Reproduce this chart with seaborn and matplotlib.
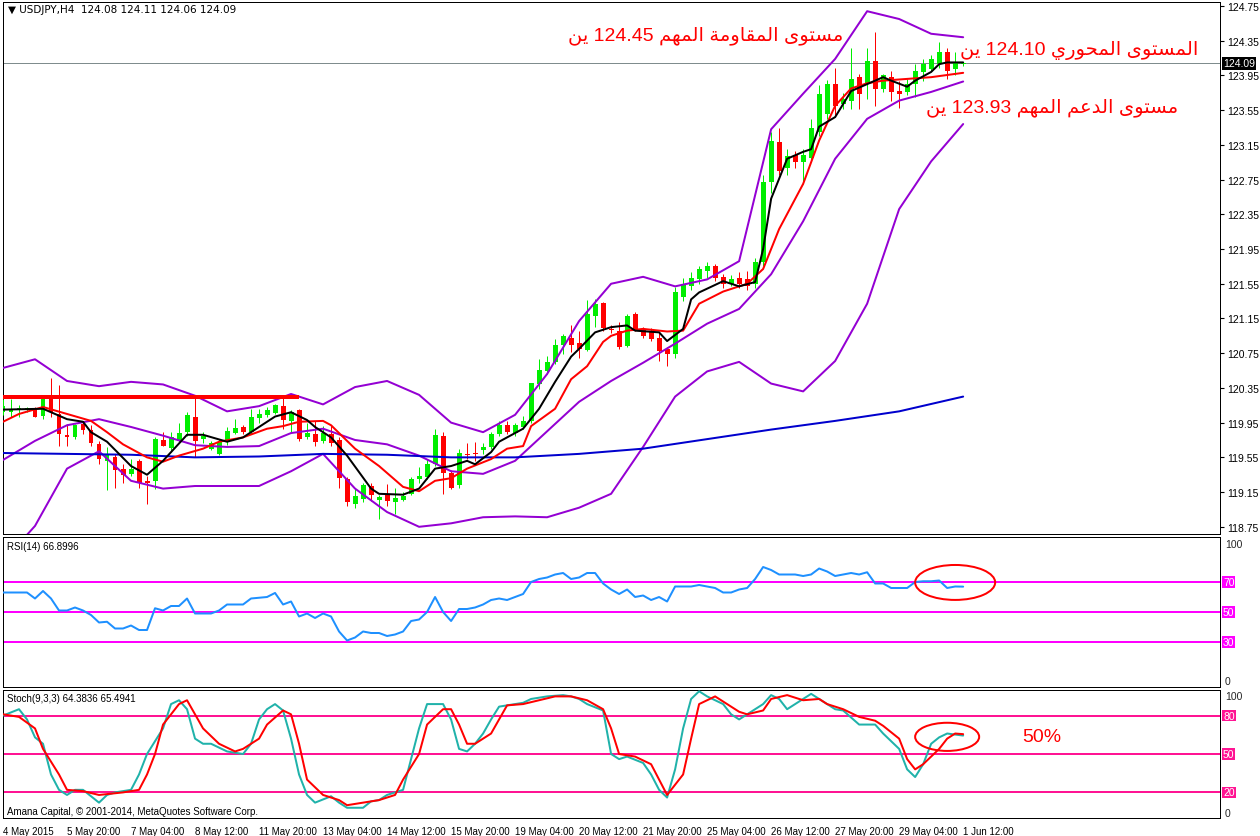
import numpy as np
import pandas as pd
import matplotlib
matplotlib.use("Agg")
import matplotlib.pyplot as plt
import matplotlib.transforms as mtransforms
from matplotlib.patches import Ellipse
import seaborn as sns

sns.set_theme(style="white")
plt.rcParams['font.family'] = ['Liberation Sans', 'DejaVu Sans']

# ---------------- data ----------------
opens = [120.07,120.07,120.10,120.11,120.11,120.03,120.23,120.05,119.80,119.78,
         119.93,119.87,119.70,119.51,119.55,119.42,119.36,119.51,119.27,119.28,
         119.75,119.66,119.74,119.84,120.02,119.76,119.65,119.59,119.74,119.83,
         119.90,119.84,120.00,120.04,120.06,120.14,119.97,120.09,119.78,119.82,
         119.74,119.82,119.75,119.30,119.01,119.07,119.22,119.06,119.13,119.04,
         119.06,119.13,119.30,119.32,119.47,119.80,119.37,119.23,119.59,119.60,
         119.63,119.67,119.82,119.92,119.83,119.90,119.97,120.40,120.54,120.65,
         120.84,120.93,120.87,120.79,121.18,121.33,121.03,121.00,120.83,121.20,
         121.02,121.01,120.93,120.80,120.74,121.40,121.52,121.60,121.70,121.75,
         121.63,121.55,121.62,121.60,121.55,121.80,122.72,123.18,122.88,123.03,
         122.95,123.00,123.30,123.50,123.85,123.62,123.66,123.93,123.85,124.12,
         123.79,123.93,123.77,123.76,123.85,123.99,124.02,124.08,124.22,124.02,
         124.08]
highs = [120.22,120.22,120.15,120.13,120.13,120.27,120.46,120.38,119.93,119.93,
         119.97,119.92,119.74,119.67,119.59,119.47,119.53,119.53,119.34,119.78,
         119.84,119.84,119.95,120.07,120.24,119.84,119.74,119.76,119.90,119.99,
         119.92,120.11,120.11,120.13,120.16,120.26,120.09,120.11,119.95,119.97,
         119.91,119.92,119.78,119.32,119.19,119.26,119.26,119.12,119.24,119.20,
         119.15,119.32,119.44,119.53,119.88,119.84,119.40,119.65,119.72,119.73,
         119.72,119.84,119.97,119.97,119.95,120.03,120.41,120.68,120.72,120.91,
         120.97,121.07,121.01,121.36,121.37,121.34,121.07,121.11,121.20,121.22,
         121.05,121.04,120.99,120.82,121.51,121.62,121.68,121.76,121.80,121.78,
         121.66,121.65,121.68,121.70,121.85,122.80,123.30,123.35,123.10,123.08,
         123.10,123.45,123.84,123.90,124.04,123.75,124.27,123.97,124.27,124.45,
         123.97,124.00,123.89,123.91,124.08,124.14,124.18,124.33,124.27,124.22,
         124.11]
lows = [120.04,120.01,120.01,120.07,120.01,119.99,120.01,119.68,119.68,119.76,
        119.82,119.68,119.47,119.17,119.20,119.26,119.34,119.20,119.01,119.19,
        119.68,119.61,119.72,119.80,119.55,119.72,119.63,119.58,119.69,119.82,
        119.82,119.82,119.95,120.01,120.05,119.88,119.84,119.74,119.76,119.68,
        119.72,119.68,119.20,118.99,118.97,119.03,119.05,118.84,118.99,118.90,
        119.05,119.12,119.26,119.30,119.45,119.13,119.19,119.20,119.53,119.51,
        119.59,119.65,119.80,119.82,119.80,119.88,119.95,120.34,120.51,120.63,
        120.74,120.76,120.69,120.77,121.05,121.01,120.98,120.80,120.82,121.00,
        120.93,120.89,120.66,120.60,120.70,121.35,121.48,121.55,121.62,121.58,
        121.50,121.52,121.50,121.48,121.50,121.75,122.60,122.80,122.80,122.88,
        122.70,122.95,123.25,123.45,123.49,123.56,123.56,123.56,123.68,123.60,
        123.76,123.66,123.58,123.72,123.70,123.89,124.00,124.04,123.91,123.95,
        124.06]
closes = [120.14,120.11,120.12,120.11,120.02,120.22,120.07,119.82,119.79,119.92,
          119.86,119.72,119.53,119.59,119.40,119.35,119.42,119.26,119.26,119.76,
          119.68,119.78,119.83,120.04,119.74,119.80,119.72,119.73,119.85,119.89,
          119.84,120.02,120.05,120.09,120.15,119.98,120.07,119.76,119.83,119.73,
          119.83,119.72,119.31,119.03,119.11,119.23,119.12,119.09,119.05,119.08,
          119.11,119.30,119.34,119.47,119.81,119.37,119.20,119.60,119.58,119.59,
          119.67,119.82,119.92,119.84,119.92,119.97,120.41,120.56,120.65,120.84,
          120.95,120.84,120.80,121.20,121.32,121.04,121.02,120.82,121.18,121.02,
          120.95,120.91,120.78,120.74,121.45,121.55,121.62,121.72,121.75,121.62,
          121.55,121.60,121.55,121.52,121.80,122.72,123.20,122.85,123.02,122.95,
          123.03,123.35,123.74,123.85,123.60,123.68,123.91,123.74,124.12,123.79,
          123.95,123.76,123.74,123.85,124.00,124.08,124.14,124.22,124.00,124.10,
          124.09]

band_bars = list(range(0, 121, 4))
bb_upper = [120.58,120.68,120.43,120.37,120.42,120.39,120.26,120.08,120.14,120.28,
            120.16,120.36,120.43,120.27,119.95,119.84,120.04,120.51,121.12,121.55,
            121.63,121.52,121.60,121.81,123.33,123.74,124.14,124.69,124.60,124.43,
            124.39]
bb_mid = [119.52,119.74,119.92,119.99,119.90,119.80,119.69,119.67,119.68,119.83,
          119.88,119.75,119.70,119.57,119.39,119.36,119.51,119.85,120.19,120.43,
          120.64,120.86,121.09,121.26,121.66,122.27,122.99,123.45,123.66,123.76,
          123.88]
bb_lower = [118.35,118.76,119.42,119.62,119.28,119.19,119.22,119.22,119.22,119.39,
            119.59,119.19,118.92,118.75,118.79,118.86,118.87,118.86,118.97,119.13,
            119.67,120.25,120.54,120.65,120.40,120.31,120.66,121.32,122.41,122.96,
            123.39]

red_bars = [0,2,5,8,11,13,15,18,20,22,25,27,30,33,35,37,40,41,44,47,50,52,54,56,58,61,63,65,66,
            69,71,73,75,76,78,80,83,85,87,90,93,95,97,100,102,104,106,108,110,113,116,120]
ma_red = [119.96,120.05,120.13,120.05,119.97,119.84,119.70,119.55,119.50,119.57,119.65,119.73,
          119.78,119.88,119.91,119.96,119.97,119.92,119.65,119.45,119.21,119.16,119.28,119.31,
          119.42,119.53,119.65,119.68,119.91,120.11,120.45,120.60,120.88,120.95,121.01,121.03,
          121.00,121.01,121.32,121.46,121.55,121.72,122.18,122.70,123.20,123.60,123.80,123.86,
          123.89,123.91,123.93,123.98]
black_bars = [0,5,8,10,11,13,16,18,20,23,25,28,30,32,34,36,38,39,41,43,46,47,50,52,54,56,58,59,
              61,62,65,67,69,71,72,74,76,78,79,82,83,85,86,87,90,92,94,95,96,98,100,101,102,104,
              106,108,110,111,113,114,116,117,118,120]
ma_black = [120.10,120.11,119.99,119.96,119.84,119.73,119.45,119.35,119.51,119.81,119.81,119.73,
            119.78,119.90,120.02,120.07,119.98,119.90,119.78,119.57,119.19,119.13,119.12,119.19,
            119.42,119.45,119.51,119.47,119.61,119.73,119.88,120.11,120.42,120.71,120.80,120.99,
            121.05,121.07,121.01,120.99,120.89,121.03,121.37,121.45,121.58,121.52,121.57,121.95,
            122.53,122.99,123.07,123.10,123.36,123.47,123.77,123.85,123.93,123.89,123.82,123.89,
            123.99,124.08,124.10,124.10]
blue_bars = list(range(0, 121, 8))
ma_blue = [119.60,119.59,119.58,119.55,119.56,119.59,119.58,119.55,119.55,119.59,
           119.65,119.76,119.87,119.97,120.08,120.25]

level_red = 120.25
level_red_end = 37
bid = 124.09

rsi = [63,63,63,63,59,64,59,51,51,53, 51,48,43,43.5,39,39,41,38,38,52.5,
       51,54,54,59,49,49,49,51,55,55, 55,59,59.5,60,62.7,55,57,47,49,46,
       49,47,37,31,33,37,36,36,34,35, 37,44,45,50,60,50,44,52,52,53,
       55,58,59,58,60,62,70,72,73,75, 76,72,73,76,76,69,65,62,65,60,
       61,58,60,57,67,67,67,68,67,66, 63,63,65,66,72,80,78,75,75,75,
       74,75,79,77,74,75,76,75,76.5,69, 69,66,66,66,70,70.5,70.5,71,66,67,
       66.9]

k_bars = [0,2,3,4,5,6,7,8,9,10,11,12,13,14,16,17,18,20,21,22,23,24,25,26,28,30,31,32,33,34,
          35,36,37,38,39,41,42,43,45,46,47,48,50,51,52,53,55,56,57,58,59,60,61,62,63,65,66,68,
          70,71,72,73,75,76,77,78,80,81,82,83,84,85,86,87,88,90,91,92,93,95,96,97,98,100,101,
          102,103,104,105,107,108,109,110,112,113,114,115,116,117,118,120]
k_vals = [80,85,77,63,58,34,22,18,22,22,17,12,18,20,22,34,50,70,89,92,85,62,58,58,52,50,58,77,85,89,
          84,62,34,18,12,17,12,8,8,13,14,18,22,46,70,89,89,77,54,52,58,66,77,87,88,90,93,95,
          96,95,93,89,84,50,46,48,43,34,22,16,38,70,93,99,95,89,81,77,81,89,96,93,85,93,97,
          93,89,85,84,73,73,73,66,54,38,32,42,58,63,66,64.4]
d_bars = [0,2,4,5,7,8,10,12,15,17,18,19,20,22,23,24,25,27,29,30,32,33,35,36,37,38,40,42,43,45,
          47,49,50,52,53,55,56,57,58,59,61,62,63,65,67,69,71,73,75,76,77,79,81,82,83,85,86,87,
          89,90,92,93,95,96,98,100,102,103,105,107,109,110,112,113,114,115,117,118,119,120]
d_vals = [81,79,70,54,34,22,21,18,20,22,34,50,73,89,92,81,70,58,52,54,62,73,84,81,58,30,18,14,10,12,
          14,18,30,50,73,85,85,73,58,58,66,77,88,89,92,95,95,92,85,70,50,48,42,30,18,34,62,89,
          95,91,83,81,84,93,96,92,93,89,85,79,76,72,62,46,38,42,54,62,66,65.5]

x_tick_bars = list(range(0, 121, 8))
x_tick_labels = ["4 May 2015", "5 May 20:00", "7 May 04:00", "8 May 12:00", "11 May 20:00",
                 "13 May 04:00", "14 May 12:00", "15 May 20:00", "19 May 04:00", "20 May 12:00",
                 "21 May 20:00", "25 May 04:00", "26 May 12:00", "27 May 20:00", "29 May 04:00",
                 "1 Jun 12:00"]
price_ticks = [118.75, 119.15, 119.55, 119.95, 120.35, 120.75, 121.15, 121.55, 121.95,
               122.35, 122.75, 123.15, 123.55, 123.95, 124.35, 124.75]
rsi_levels = [70, 50, 30]
stoch_levels = [80, 50, 20]

header = "\u25BC USDJPY,H4  124.08 124.11 124.06 124.09"
rsi_title = "RSI(14) 66.8996"
stoch_title = "Stoch(9,3,3) 64.3836 65.4941"
copyright_txt = "Amana Capital, \u00A9 2001-2014, MetaQuotes Software Corp."
note_resist = "مستوى المقاومة المهم 124.45 ين"
note_pivot = "المستوى المحوري 124.10 ين"
note_support = "مستوى الدعم المهم 123.93 ين"
note_pct = "50%"

# ------------- Arabic shaping (presentation forms, visual order) -------------
FORMS = {
    'ا': ('\uFE8D', '\uFE8E', None, None),
    'ة': ('\uFE93', '\uFE94', None, None),
    'ت': ('\uFE95', '\uFE96', '\uFE97', '\uFE98'),
    'ح': ('\uFEA1', '\uFEA2', '\uFEA3', '\uFEA4'),
    'د': ('\uFEA9', '\uFEAA', None, None),
    'ر': ('\uFEAD', '\uFEAE', None, None),
    'س': ('\uFEB1', '\uFEB2', '\uFEB3', '\uFEB4'),
    'ع': ('\uFEC9', '\uFECA', '\uFECB', '\uFECC'),
    'ق': ('\uFED5', '\uFED6', '\uFED7', '\uFED8'),
    'ل': ('\uFEDD', '\uFEDE', '\uFEDF', '\uFEE0'),
    'م': ('\uFEE1', '\uFEE2', '\uFEE3', '\uFEE4'),
    'ن': ('\uFEE5', '\uFEE6', '\uFEE7', '\uFEE8'),
    'ه': ('\uFEE9', '\uFEEA', '\uFEEB', '\uFEEC'),
    'و': ('\uFEED', '\uFEEE', None, None),
    'ى': ('\uFEEF', '\uFEF0', None, None),
    'ي': ('\uFEF1', '\uFEF2', '\uFEF3', '\uFEF4'),
}


def shape_word(w):
    out = []
    n = len(w)
    for k, ch in enumerate(w):
        if ch not in FORMS:
            out.append(ch)
            continue
        f = FORMS[ch]
        pj = k > 0 and w[k - 1] in FORMS and FORMS[w[k - 1]][2] is not None
        nj = f[2] is not None and k + 1 < n and w[k + 1] in FORMS
        if pj and nj:
            out.append(f[3])
        elif pj:
            out.append(f[1])
        elif nj:
            out.append(f[2])
        else:
            out.append(f[0])
    return ''.join(out)


def visual(text):
    vis = []
    for p in text.split(' '):
        if any(c in FORMS for c in p):
            vis.append(shape_word(p)[::-1])
        else:
            vis.append(p)
    return ' '.join(reversed(vis))


# ---------------- figure ----------------
W, H = 1260, 837
fig = plt.figure(figsize=(W / 100, H / 100), dpi=100)
fig.patch.set_facecolor('white')


def px_axes(x0, y0, x1, y1):
    return fig.add_axes([x0 / W, 1 - y1 / H, (x1 - x0) / W, (y1 - y0) / H])


ax = px_axes(3, 3, 1220, 535)
ax_r = px_axes(3, 538, 1220, 688)
ax_s = px_axes(3, 691, 1220, 819)

PX = 0.72  # 1 pixel in points
XMAX = 152.1
ylo, yhi = 118.667, 124.796
FS = 7.5
FSX = 7

# candles
idx = np.arange(len(closes))
o = np.array(opens); c = np.array(closes); hi = np.array(highs); lo = np.array(lows)
cols = np.where(c >= o, '#00EE00', '#FF0000')
ax.vlines(idx, lo, hi, colors=cols, lw=1.0 * PX, zorder=3)
bot = np.minimum(o, c)
hgt = np.maximum(np.abs(c - o), 0.012)
ax.bar(idx, hgt, bottom=bot, width=0.62, color=cols, linewidth=0, zorder=4)

lw2 = 2.0 * PX
band_df = pd.DataFrame({'bar': band_bars, 'up': bb_upper, 'mid': bb_mid, 'low': bb_lower})
for col in ['up', 'mid', 'low']:
    sns.lineplot(data=band_df, x='bar', y=col, ax=ax, color='#9400D3', lw=lw2, zorder=5)
blue_df = pd.DataFrame({'bar': blue_bars, 'v': ma_blue})
sns.lineplot(data=blue_df, x='bar', y='v', ax=ax, color='#0000CD', lw=lw2, zorder=5)
red_df = pd.DataFrame({'bar': red_bars, 'v': ma_red})
sns.lineplot(data=red_df, x='bar', y='v', ax=ax, color='#FF0000', lw=lw2, zorder=6)
black_df = pd.DataFrame({'bar': black_bars, 'v': ma_black})
sns.lineplot(data=black_df, x='bar', y='v', ax=ax, color='black', lw=lw2, zorder=7)
ax.hlines(level_red, 0, level_red_end, color='#FF0000', lw=4 * PX, zorder=6)
ax.axhline(bid, color='#7F8C8D', lw=1 * PX, zorder=2)

ax.set_xlim(0, XMAX)
ax.set_ylim(ylo, yhi)
ax.set_xticks([])
ax.yaxis.tick_right()
ax.set_yticks(price_ticks)
ax.set_yticklabels([f"{t:.2f}" for t in price_ticks])
ax.set_xlabel(''); ax.set_ylabel('')

trans_main = mtransforms.blended_transform_factory(ax.transAxes, ax.transData)
ax.text(1.0025, bid, f"{bid:.2f}", transform=trans_main, color='white', fontsize=FS,
        va='center', ha='left', zorder=10,
        bbox=dict(boxstyle='square,pad=0.12', fc='black', ec='none'))

# RSI
rsi_df = pd.DataFrame({'bar': idx, 'rsi': rsi})
for lv in rsi_levels:
    ax_r.axhline(lv, color='#FF00FF', lw=lw2, zorder=2)
sns.lineplot(data=rsi_df, x='bar', y='rsi', ax=ax_r, color='#1E90FF', lw=lw2, zorder=4)
ax_r.set_xlim(0, XMAX); ax_r.set_ylim(0, 100)
ax_r.set_xticks([]); ax_r.set_yticks([])
ax_r.set_xlabel(''); ax_r.set_ylabel('')
tr_r = mtransforms.blended_transform_factory(ax_r.transAxes, ax_r.transData)
for lv in rsi_levels:
    ax_r.text(1.0025, lv, str(lv), transform=tr_r, color='white', fontsize=FS, va='center',
              ha='left', bbox=dict(boxstyle='square,pad=0.08', fc='#FF00FF', ec='none'))
ax_r.text(1.004, 0.955, '100', transform=ax_r.transAxes, fontsize=FS, va='center', ha='left')
ax_r.text(1.004, 0.04, '0', transform=ax_r.transAxes, fontsize=FS, va='center', ha='left')
ax_r.add_patch(Ellipse((119, 69.7), 10, 23.3, fill=False, ec='#FF0000', lw=2 * PX, zorder=6))

# Stochastic
k_df = pd.DataFrame({'bar': k_bars, 'k': k_vals})
d_df = pd.DataFrame({'bar': d_bars, 'd': d_vals})
for lv in stoch_levels:
    ax_s.axhline(lv, color='#FF1493', lw=lw2, zorder=2)
sns.lineplot(data=k_df, x='bar', y='k', ax=ax_s, color='#20B2AA', lw=lw2, zorder=4)
sns.lineplot(data=d_df, x='bar', y='d', ax=ax_s, color='#FF0000', lw=lw2, zorder=5)
ax_s.set_xlim(0, XMAX); ax_s.set_ylim(0, 100)
ax_s.set_yticks([])
ax_s.set_xticks(x_tick_bars)
ax_s.set_xticklabels(x_tick_labels, ha='left')
ax_s.set_xlabel(''); ax_s.set_ylabel('')
tr_s = mtransforms.blended_transform_factory(ax_s.transAxes, ax_s.transData)
for lv in stoch_levels:
    ax_s.text(1.0025, lv, str(lv), transform=tr_s, color='white', fontsize=FS, va='center',
              ha='left', bbox=dict(boxstyle='square,pad=0.08', fc='#FF1493', ec='none'))
ax_s.text(1.004, 0.95, '100', transform=ax_s.transAxes, fontsize=FS, va='center', ha='left')
ax_s.text(1.004, 0.04, '0', transform=ax_s.transAxes, fontsize=FS, va='center', ha='left')
ax_s.add_patch(Ellipse((118, 63.4), 8, 22, fill=False, ec='#FF0000', lw=2 * PX, zorder=6))

for a in (ax, ax_r, ax_s):
    a.set_facecolor('white')
    for sp in a.spines.values():
        sp.set_color('black'); sp.set_linewidth(1.0 * PX); sp.set_visible(True)
    a.tick_params(axis='both', which='both', direction='out', length=3, width=0.8,
                  colors='black', labelsize=FS, pad=2)
    a.grid(False)
ax_s.tick_params(axis='x', length=4, pad=2, labelsize=FSX)

# panel texts
fig.text(8 / W, 1 - 10 / H, header, fontsize=FS, color='black', va='center', ha='left',
         family=['DejaVu Sans'])
fig.text(7 / W, 1 - 547 / H, rsi_title, fontsize=FSX, color='black', va='center', ha='left')
fig.text(7 / W, 1 - 699 / H, stoch_title, fontsize=FSX, color='black', va='center', ha='left')
fig.text(7 / W, 1 - 812 / H, copyright_txt, fontsize=FSX, color='black', va='center', ha='left')

# annotations
afam = ['Liberation Sans', 'DejaVu Sans']
fig.text(843 / W, 1 - 36 / H, visual(note_resist), fontsize=14, color='#FF0000',
         ha='right', va='center', family=afam)
fig.text(1198 / W, 1 - 50 / H, visual(note_pivot), fontsize=14, color='#FF0000',
         ha='right', va='center', family=afam)
fig.text(1178 / W, 1 - 108 / H, visual(note_support), fontsize=14, color='#FF0000',
         ha='right', va='center', family=afam)
fig.text(1022 / W, 1 - 738 / H, note_pct, fontsize=14, color='#FF0000',
         ha='left', va='center', family=afam)

fig.savefig('out.png', dpi=100, facecolor='white')
